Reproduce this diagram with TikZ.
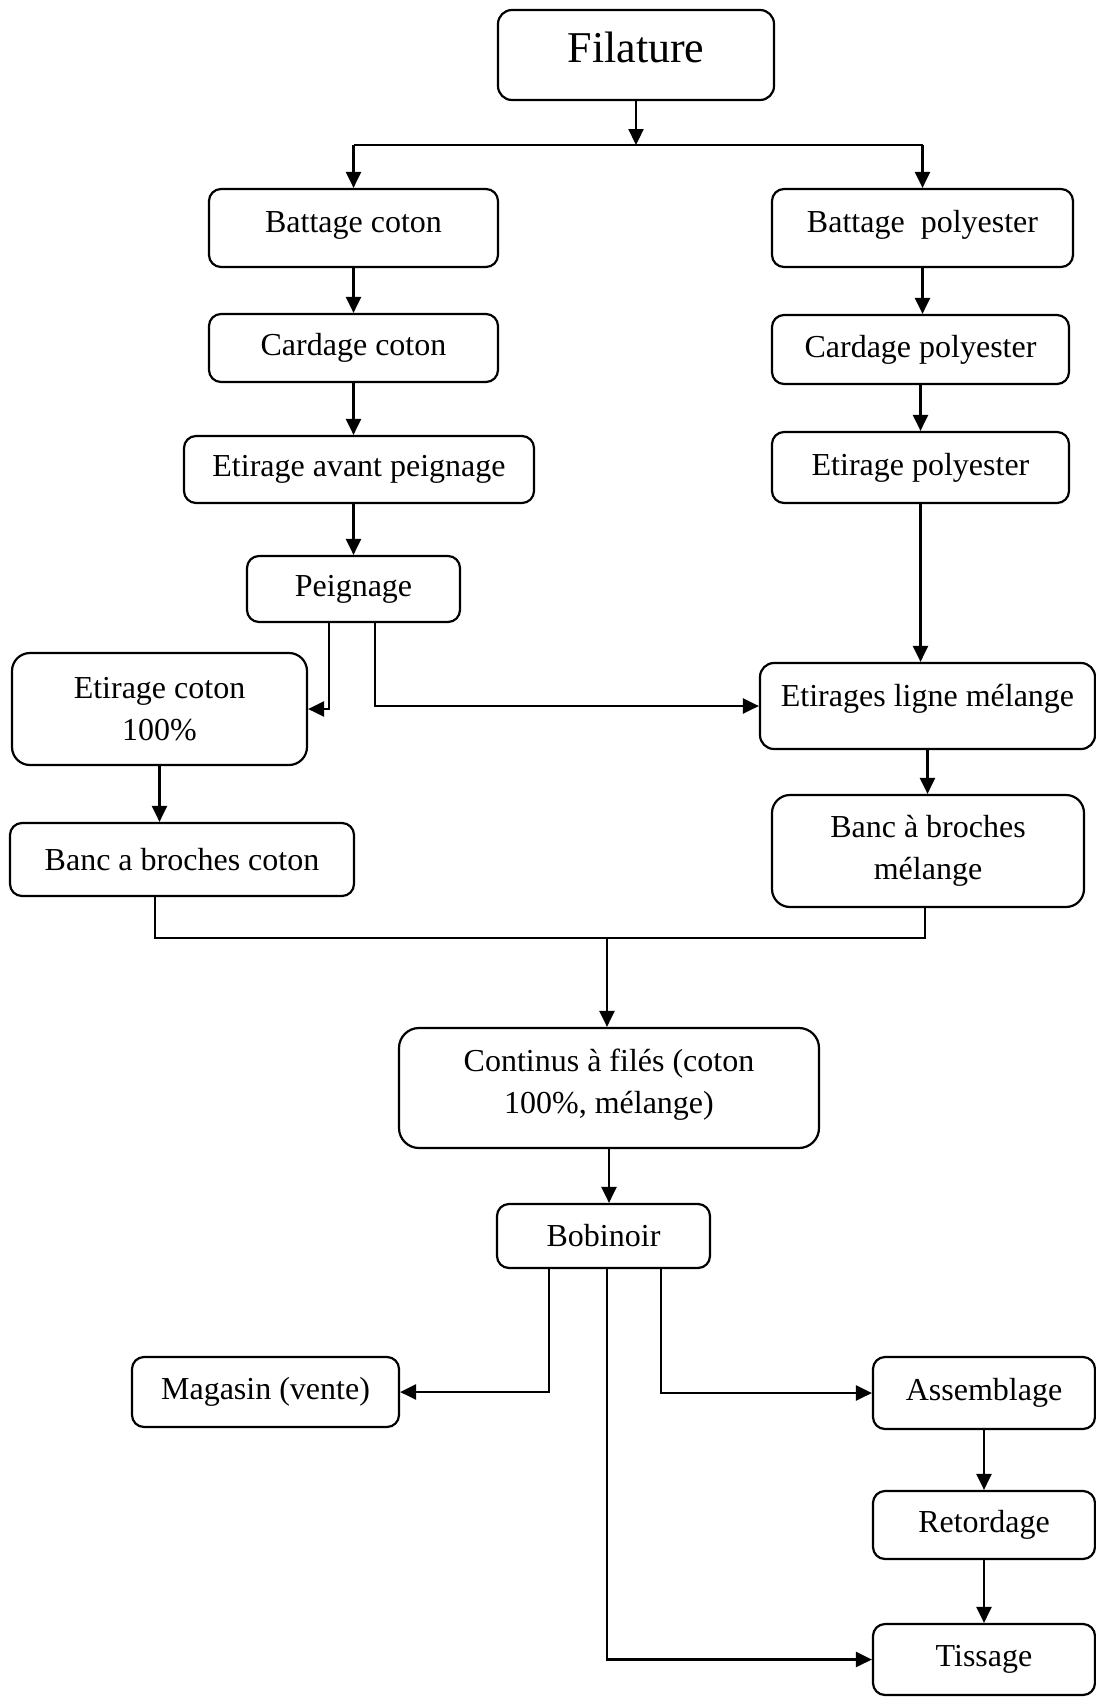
\documentclass[tikz,border=0pt]{standalone}
\usepackage{fontspec}
\setmainfont{Liberation Serif}
\usetikzlibrary{arrows.meta}
\begin{document}
\begin{tikzpicture}[x=0.5pt,y=-0.5pt,
  box/.style={draw, line width=1.1pt, rounded corners=6pt, align=center, inner sep=0pt,
    font=\fontsize{16pt}{21pt}\selectfont},
  lift/.style={text height=11pt, text depth=#1},
  arr/.style={line width=1.15pt, -{Triangle[length=8pt,width=7.5pt]}},
  ln/.style={line width=0.95pt}]
\useasboundingbox (0,0) rectangle (1096,1697);

\node[box, minimum width=138pt, minimum height=45pt, rounded corners=7pt,
      font=\fontsize{22pt}{26pt}\selectfont, text height=15pt, text depth=7.4pt] (fil) at (636,55) {Filature};
\node[box, minimum width=144.5pt, minimum height=39pt, lift=6.4pt] (bc) at (353.5,228) {Battage coton};
\node[box, minimum width=150.5pt, minimum height=39pt, lift=6.4pt] (bp) at (922.5,228) {Battage~~polyester};
\node[box, minimum width=144.5pt, minimum height=34pt] (cc) at (353.5,348) {Cardage coton};
\node[box, minimum width=148.5pt, minimum height=34.5pt] (cp) at (920.5,349.5) {Cardage polyester};
\node[box, minimum width=175pt, minimum height=33.5pt] (eap) at (359,469.5) {Etirage avant peignage};
\node[box, minimum width=148.5pt, minimum height=35.5pt] (ep) at (920.5,467.5) {Etirage polyester};
\node[box, minimum width=106.5pt, minimum height=33pt] (pei) at (353.5,589) {Peignage};
\node[box, minimum width=147.5pt, minimum height=56pt, rounded corners=9pt] (ec) at (159.5,709) {Etirage coton\\100\%};
\node[box, minimum width=167.5pt, minimum height=43pt, rounded corners=7pt, lift=10.4pt] (elm) at (927.5,706) {Etirages ligne mélange};
\node[box, minimum width=172pt, minimum height=36.5pt] (bbc) at (182,859.5) {Banc a broches coton};
\node[box, minimum width=156pt, minimum height=56pt, rounded corners=9pt] (bbm) at (928,851) {Banc à broches\\mélange};
\node[box, minimum width=210pt, minimum height=60pt, rounded corners=10pt, text depth=7pt] (cont) at (609,1088) {Continus à filés (coton\\100\%, mélange)};
\node[box, minimum width=106.5pt, minimum height=32pt] (bob) at (603.5,1236) {Bobinoir};
\node[box, minimum width=133.5pt, minimum height=35pt] (mag) at (265.5,1392) {Magasin (vente)};
\node[box, minimum width=111pt, minimum height=36pt] (ass) at (984,1393) {Assemblage};
\node[box, minimum width=111pt, minimum height=34pt] (ret) at (984,1525) {Retordage};
\node[box, minimum width=111pt, minimum height=35.5pt] (tis) at (984,1659.5) {Tissage};

\coordinate (split) at (636,145);
\draw[ln] (bc.north |- split) -- (bp.north |- split);
\draw[arr] (fil.south) -- (split);
\draw[arr] (bc.north |- split) -- (bc.north);
\draw[arr] (bp.north |- split) -- (bp.north);
\draw[arr] (bc.south) -- (cc.north);
\draw[arr] (cc.south) -- (cc.south |- eap.north);
\draw[arr] (pei.north |- eap.south) -- (pei.north);
\draw[arr] (bp.south) -- (bp.south |- cp.north);
\draw[arr] (cp.south) -- (ep.north);
\draw[arr] (ep.south) -- (ep.south |- elm.north);

\coordinate (pl) at (329,622);
\coordinate (pr) at (375,622);
\draw[arr] (pl) |- (ec.east);
\draw[arr] (pr) |- (elm.west);
\draw[arr] (ec.south) -- (ec.south |- bbc.north);
\draw[arr] (elm.south) -- (elm.south |- bbm.north);

\coordinate (ml) at (155,896);
\coordinate (mr) at (925,907);
\coordinate (mj) at (607,938);
\draw[ln] (ml) |- (mj) -| (mr);
\draw[arr] (mj) -- (mj |- cont.north);
\draw[arr] (cont.south) -- (cont.south |- bob.north);

\coordinate (b1) at (549,1268);
\coordinate (b2) at (607,1268);
\coordinate (b3) at (661,1268);
\draw[arr] (b1) |- (mag.east);
\draw[arr] (b3) |- (ass.west);
\draw[arr] (b2) |- (tis.west);
\draw[arr] (ass.south) -- (ret.north);
\draw[arr] (ret.south) -- (tis.north);
\end{tikzpicture}
\end{document}
